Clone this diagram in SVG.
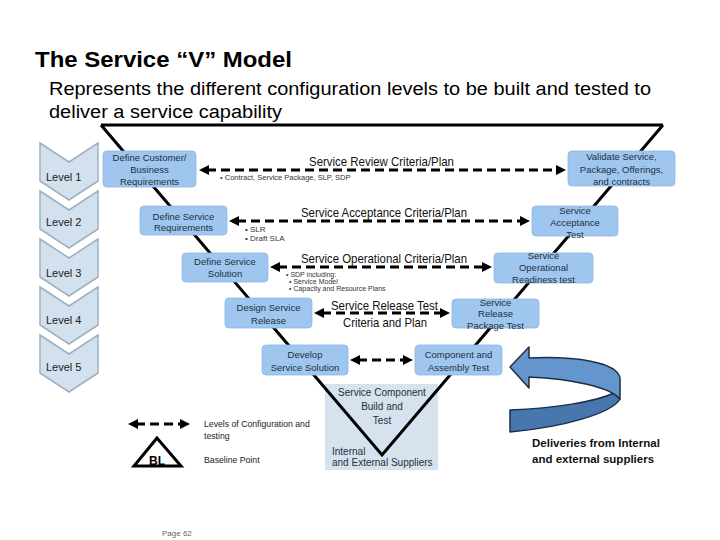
<svg xmlns="http://www.w3.org/2000/svg" width="720" height="540" viewBox="0 0 720 540">
<style>
text{font-family:"Liberation Sans",Arial,sans-serif;fill:#1e1e1e}
.title{font-size:22px;font-weight:bold;fill:#000}
.sub{font-size:18px;fill:#000}
.box{fill:#9ec6ef;stroke:#8db6e2;stroke-width:0.8}
.bt{font-size:9.5px;text-anchor:middle;fill:#23303d}
.chev{fill:#d3e0ee;stroke:#9fb0c3;stroke-width:1.5}
.lv{font-size:11px;fill:#1a1a1a}
.vline{fill:none;stroke:#000;stroke-width:3}
.dash{fill:none;stroke:#000;stroke-width:3;stroke-dasharray:9 5}
.lbl{font-size:13px;text-anchor:middle;fill:#111}
.note{font-size:7px;fill:#333}
.leg{font-size:8.7px;fill:#222}
</style>
<defs>
<marker id="ah" viewBox="0 0 10 10" refX="2" refY="5" markerWidth="10" markerHeight="10" markerUnits="userSpaceOnUse" orient="auto-start-reverse">
<path d="M0,0 L10,5 L0,10 z" fill="#000"/>
</marker>
</defs>
<rect width="720" height="540" fill="#fff"/>

<text class="title" x="35" y="67" textLength="257" lengthAdjust="spacingAndGlyphs">The Service “V” Model</text>
<text class="sub" x="49" y="95" textLength="602" lengthAdjust="spacingAndGlyphs">Represents the different configuration levels to be built and tested to</text>
<text class="sub" x="49" y="118" textLength="233" lengthAdjust="spacingAndGlyphs">deliver a service capability</text>

<g id="levels">
<g id="level1"><path class="chev" d="M40,143 L69,162 L98,143 L98,181 L69,200 L40,181 Z"/><text class="lv" x="46" y="181">Level 1</text></g>
<g id="level2"><path class="chev" d="M40,191 L69,210 L98,191 L98,229 L69,248 L40,229 Z"/><text class="lv" x="46" y="226">Level 2</text></g>
<g id="level3"><path class="chev" d="M40,239 L69,258 L98,239 L98,277 L69,296 L40,277 Z"/><text class="lv" x="46" y="277">Level 3</text></g>
<g id="level4"><path class="chev" d="M40,287 L69,306 L98,287 L98,325 L69,344 L40,325 Z"/><text class="lv" x="46" y="324">Level 4</text></g>
<g id="level5"><path class="chev" d="M40,335 L69,354 L98,335 L98,373 L69,392 L40,373 Z"/><text class="lv" x="46" y="371">Level 5</text></g>
</g>

<g id="build-area">
<rect x="325" y="384" width="113" height="86" fill="#d6e2ee"/>
<text class="bt" x="382" y="396" style="font-size:10px">Service Component</text>
<text class="bt" x="382" y="410" style="font-size:10px">Build and</text>
<text class="bt" x="382" y="424" style="font-size:10px">Test</text>
<text class="bt" x="332" y="455" style="font-size:10px;text-anchor:start">Internal</text>
<text class="bt" x="332" y="466" style="font-size:10px;text-anchor:start">and External Suppliers</text>
</g>

<g id="v-shape">
<path class="vline" d="M101,125 L663,125 M101,125 L382,455 L663,125"/>
</g>

<g id="n1"><rect class="box" x="103" y="151" width="93" height="36" rx="4"/><text class="bt" x="149.5" y="161">Define Customer/</text><text class="bt" x="149.5" y="173">Business</text><text class="bt" x="149.5" y="185">Requirements</text></g>
<g id="n2"><rect class="box" x="140" y="206" width="87" height="29" rx="4"/><text class="bt" x="183.5" y="220">Define Service</text><text class="bt" x="183.5" y="231">Requirements</text></g>
<g id="n3"><rect class="box" x="182" y="253" width="86" height="29" rx="4"/><text class="bt" x="225" y="265">Define Service</text><text class="bt" x="225" y="277">Solution</text></g>
<g id="n4"><rect class="box" x="225" y="298" width="87" height="30" rx="4"/><text class="bt" x="268.5" y="311">Design Service</text><text class="bt" x="268.5" y="324">Release</text></g>
<g id="n5"><rect class="box" x="262" y="345" width="86" height="30" rx="4"/><text class="bt" x="305" y="358">Develop</text><text class="bt" x="305" y="371">Service Solution</text></g>
<g id="n6"><rect class="box" x="415" y="345" width="87" height="30" rx="4"/><text class="bt" x="458.5" y="358">Component and</text><text class="bt" x="458.5" y="371">Assembly Test</text></g>
<g id="n7"><rect class="box" x="452" y="299" width="87" height="29" rx="4"/><text class="bt" x="495.5" y="306">Service</text><text class="bt" x="495.5" y="317">Release</text><text class="bt" x="495.5" y="329">Package Test</text></g>
<g id="n8"><rect class="box" x="494" y="253" width="99" height="30" rx="4"/><text class="bt" x="543.5" y="259">Service</text><text class="bt" x="543.5" y="271">Operational</text><text class="bt" x="543.5" y="283">Readiness test</text></g>
<g id="n9"><rect class="box" x="532" y="206" width="86" height="30" rx="4"/><text class="bt" x="575" y="214">Service</text><text class="bt" x="575" y="226">Acceptance</text><text class="bt" x="575" y="238">Test</text></g>
<g id="n10"><rect class="box" x="568" y="151" width="107" height="35" rx="4"/><text class="bt" x="621.5" y="160">Validate Service,</text><text class="bt" x="621.5" y="173">Package, Offerings,</text><text class="bt" x="621.5" y="185">and contracts</text></g>

<g id="connectors">
<path class="dash" d="M207,170 L558,170" marker-start="url(#ah)" marker-end="url(#ah)"/>
<path class="dash" d="M237,221 L522,221" marker-start="url(#ah)" marker-end="url(#ah)"/>
<path class="dash" d="M278,267 L484,267" marker-start="url(#ah)" marker-end="url(#ah)"/>
<path class="dash" d="M322,313 L442,313" marker-start="url(#ah)" marker-end="url(#ah)"/>
<path class="dash" d="M358,360 L405,360" marker-start="url(#ah)" marker-end="url(#ah)"/>
<path class="dash" d="M136,424 L182,424" marker-start="url(#ah)" marker-end="url(#ah)"/>
<text class="lbl" x="381.5" y="166" textLength="145" lengthAdjust="spacingAndGlyphs">Service Review Criteria/Plan</text>
<text class="lbl" x="384" y="217" textLength="166" lengthAdjust="spacingAndGlyphs">Service Acceptance Criteria/Plan</text>
<text class="lbl" x="384" y="263" textLength="166" lengthAdjust="spacingAndGlyphs">Service Operational Criteria/Plan</text>
<text class="lbl" x="384.5" y="310" textLength="107" lengthAdjust="spacingAndGlyphs">Service Release Test</text>
<text class="lbl" x="385" y="327" textLength="84" lengthAdjust="spacingAndGlyphs">Criteria and Plan</text>
<text class="note" x="220" y="180" style="font-size:7.5px">• Contract, Service Package, SLP, SDP</text>
<text class="note" x="245" y="232" style="font-size:8px">• SLR</text>
<text class="note" x="245" y="241" style="font-size:8px">• Draft SLA</text>
<text class="note" x="286" y="277">• SDP including:</text>
<text class="note" x="289" y="284">• Service Model</text>
<text class="note" x="289" y="291">• Capacity and Resource Plans</text>
</g>

<g id="legend">
<text class="leg" x="204" y="427">Levels of Configuration and</text>
<text class="leg" x="204" y="439">testing</text>
<path d="M157,438 L134,466 L181,466 Z" fill="#fff" stroke="#000" stroke-width="3" stroke-linejoin="miter"/>
<text x="157" y="465" style="font-size:12px;font-weight:bold;text-anchor:middle;fill:#000">BL</text>
<text class="leg" x="204" y="463">Baseline Point</text>
</g>

<g id="deliveries">
<path d="M510,410 C555,408 595,402 614,393 L620,399 C612,413 565,427 510,432 Z" fill="#4877ad" stroke="#1c2f4a" stroke-width="1.5" stroke-linejoin="round"/>
<path d="M510,367 L529,347 L529,358 C575,356 617,362 620,378 L620,399 C610,387 572,379 529,377 L529,388 Z" fill="#6496cd" stroke="#1c2f4a" stroke-width="1.5" stroke-linejoin="round"/>
<text x="532" y="447" style="font-size:11.5px;font-weight:bold;fill:#111">Deliveries from Internal</text>
<text x="532" y="463" style="font-size:11.5px;font-weight:bold;fill:#111">and external suppliers</text>
</g>

<text x="162" y="536" style="font-size:8px;fill:#666">Page 62</text>
</svg>
